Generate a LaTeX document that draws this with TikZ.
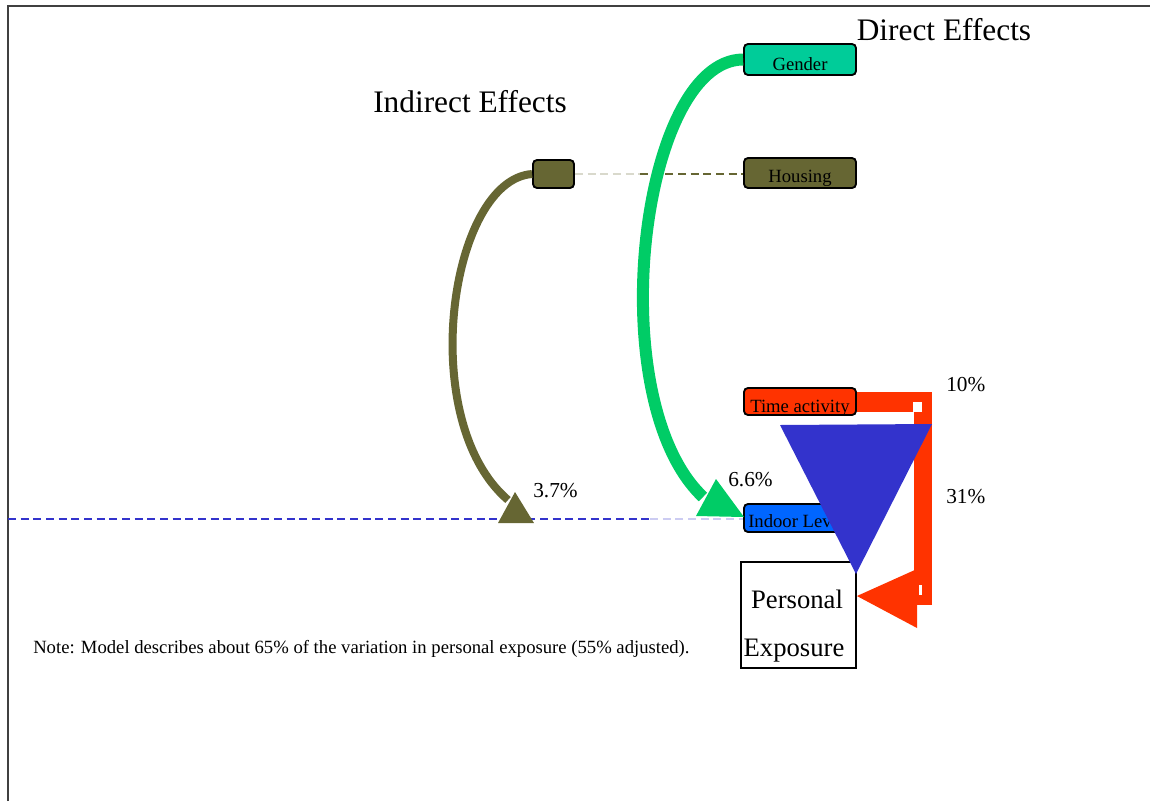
\documentclass[tikz,border=0pt]{standalone}
\usepackage{fontspec}
\setmainfont{Liberation Serif}

\definecolor{gendercol}{HTML}{00CC99}
\definecolor{greenpath}{HTML}{00CC66}
\definecolor{olive}{HTML}{666633}
\definecolor{timecol}{HTML}{FF3300}
\definecolor{indoorcol}{HTML}{0066FF}
\definecolor{triblue}{HTML}{3333CC}
\definecolor{framegray}{HTML}{404040}

\tikzset{
  tagbox/.style={rectangle, rounded corners=3pt, draw=black, line width=1.4pt,
    inner sep=0pt, minimum width=84pt},
  lbl/.style={inner sep=0pt, anchor=base, font=\fontsize{14}{16}\selectfont},
  pct/.style={inner sep=0pt, anchor=base west, font=\fontsize{16}{18}\selectfont},
  heading/.style={inner sep=0pt, anchor=base, font=\fontsize{23.5}{26}\selectfont},
  bigtxt/.style={inner sep=0pt, anchor=base, font=\fontsize{20}{22}\selectfont},
  effectdash/.style={line width=1.1pt, dash pattern=on 6pt off 3.5pt},
}

\begin{document}
\begin{tikzpicture}[x=0.75pt, y=-0.75pt]
\useasboundingbox (0,0) rectangle (1150,801);

% frame on the top and left
\draw[framegray, line width=1.5pt] (8,801) -- (8,6) -- (1150,6);

% headings
\node[heading] (direct) at (944,40) {Direct Effects};
\node[heading] (indirect) at (470,112) {Indirect Effects};

% boxes
\node[tagbox, fill=gendercol, minimum height=23.25pt] (gender) at (800,59.5) {};
\node[tagbox, fill=olive, minimum height=22.5pt] (housing) at (800,173) {};
\node[tagbox, fill=olive, minimum width=30.75pt, minimum height=21pt] (hsmall) at (553.5,174) {};
\node[tagbox, fill=timecol, minimum height=20.25pt] (time) at (800,401.5) {};
\node[tagbox, fill=indoorcol, minimum height=21pt] (indoor) at (800,518) {};

% dashed links
\coordinate (leftend) at (8,519);
\coordinate (bluefade) at (650,519);
\coordinate (olivefade) at (640,174);
\draw[effectdash, triblue] (leftend) -- (bluefade);
\draw[effectdash, triblue!25] (bluefade) -- (indoor.west |- bluefade);
\draw[effectdash, olive!25] (hsmall.east) -- (olivefade);
\draw[effectdash, olive] (olivefade) -- (housing.west |- olivefade);

% indirect path: housing -> indoor level
\coordinate (oend) at (508,500);
\draw[olive, line width=6pt] (hsmall.west) .. controls (450,180) and (415,420) .. (oend);
\fill[olive] (498,523) coordinate (oa) -- (515,492) coordinate (ob) -- (534,523) coordinate (oc) -- cycle;

% direct path: gender -> indoor level
\coordinate (gend) at (703,497);
\draw[greenpath, line width=9pt] (gender.west) .. controls (640,60) and (600,400) .. (gend);
\fill[greenpath] (696,516) coordinate (ga) -- (716,479) coordinate (gb) -- (744,517) coordinate (gc) -- cycle;

% time activity -> personal exposure
\fill[timecol] (time.east |- 0,392) rectangle (932,412);
\fill[timecol] (914,392) rectangle (932,605);
\fill[white] (913,402) rectangle (922,412);
\fill[white] (919,585) rectangle (922,595);

% personal exposure box
\node[draw=black, line width=1.4pt, fill=white, inner sep=0pt,
  minimum width=86.25pt, minimum height=79.5pt] (pe) at (798.5,615) {};
\fill[timecol] (pe.east |- 0,596) coordinate (ra) -- (917,569) coordinate (rb) -- (917,628) coordinate (rc) -- cycle;

% labels
\node[lbl] (gendertxt) at (800,70) {Gender};
\node[lbl] (housingtxt) at (800,182) {Housing};
\node[lbl, anchor=base west] (timetxt) at (750,412) {Time activity};
\node[lbl, anchor=base west] (indoortxt) at (748,527) {Indoor Level};
\node[bigtxt] (petxt1) at (797,608) {Personal};
\node[bigtxt] (petxt2) at (794,656) {Exposure};
\node[pct] (p37) at (533,497) {3.7\%};
\node[pct] (p66) at (728,486) {6.6\%};
\node[pct] (p10) at (946,391) {10\%};
\node[pct] (p31) at (946,503) {31\%};
\node[lbl, anchor=base west] (note) at (33,653) {Note: Model describes about 65\% of the variation in personal exposure (55\% adjusted).};

% indoor level -> personal exposure
\fill[triblue] (780,425) coordinate (ta) -- (932,424) coordinate (tb) -- (856,574) coordinate (tc) -- cycle;
\end{tikzpicture}
\end{document}
